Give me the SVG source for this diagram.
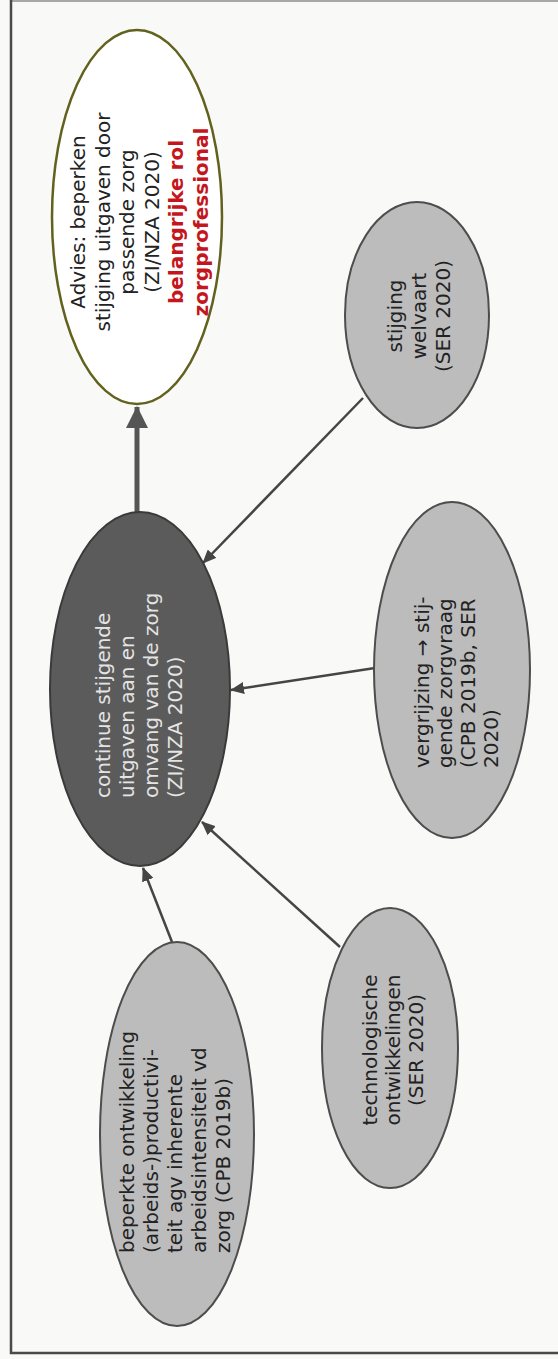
<svg xmlns="http://www.w3.org/2000/svg" width="558" height="1359" viewBox="0 0 558 1359">
<defs>
<style>
.bg{fill:#f9f9f7}
.frame{fill:none;stroke:#4a4a4a;stroke-width:2.5}
.topline{stroke:#a8a8a8;stroke-width:2}
.grey{fill:#bcbcbc;stroke:#4d4d4d;stroke-width:2}
.dark{fill:#5b5b5b;stroke:#3a3a3a;stroke-width:2}
.white{fill:#ffffff;stroke:#62621e;stroke-width:2.5}
text{font-family:"DejaVu Sans",Verdana,sans-serif;font-size:20px}
.t{fill:#222}
.tl{fill:#e4e4e4}
.red{fill:#c4161c;font-weight:bold}
.c{text-anchor:middle}
.thin{stroke:#454545;stroke-width:2.5;fill:none}
.thick{stroke:#555;stroke-width:5;fill:none}
</style>
<marker id="ah" markerUnits="userSpaceOnUse" markerWidth="14" markerHeight="12" refX="13" refY="6" orient="auto">
<path d="M0,0 L14,6 L0,12 Z" fill="#454545"/>
</marker>
<marker id="ahb" markerUnits="userSpaceOnUse" markerWidth="22" markerHeight="22" refX="21" refY="11" orient="auto">
<path d="M0,0 L22,11 L0,22 Z" fill="#555"/>
</marker>
</defs>
<rect class="bg" x="0" y="0" width="558" height="1359"/>
<line class="topline" x1="11" y1="1" x2="558" y2="1"/>
<path class="frame" d="M11,0 L11,1353 L560,1353"/>

<g id="connectors">
<line class="thick" x1="137" y1="512" x2="137" y2="407" marker-end="url(#ahb)"/>
<line class="thin" x1="363" y1="398" x2="203" y2="563" marker-end="url(#ah)"/>
<line class="thin" x1="375" y1="668" x2="231" y2="690" marker-end="url(#ah)"/>
<line class="thin" x1="340" y1="947" x2="202" y2="822" marker-end="url(#ah)"/>
<line class="thin" x1="172" y1="942" x2="143" y2="868" marker-end="url(#ah)"/>
</g>

<g id="advies">
<ellipse class="white" cx="137" cy="217" rx="85" ry="187"/>
<g transform="translate(85,222) rotate(-90)">
<text class="t c" x="0" y="0">Advies:  beperken</text>
<text class="t c" x="0" y="24.5">stijging uitgaven door</text>
<text class="t c" x="0" y="49">passende zorg</text>
<text class="t c" x="0" y="73.5">(ZI/NZA 2020)</text>
<text class="red c" x="0" y="98">belangrijke rol</text>
<text class="red c" x="0" y="122.5">zorgprofessional</text>
</g>
</g>

<g id="central">
<ellipse class="dark" cx="140" cy="689" rx="90" ry="177"/>
<g transform="translate(110,798) rotate(-90)">
<text class="tl" x="0" y="0">continue stijgende</text>
<text class="tl" x="0" y="24">uitgaven aan en</text>
<text class="tl" x="0" y="48">omvang van de zorg</text>
<text class="tl" x="0" y="72">(ZI/NZA 2020)</text>
</g>
</g>

<g id="welvaart">
<ellipse class="grey" cx="417" cy="315" rx="72" ry="113"/>
<g transform="translate(402,316) rotate(-90)">
<text class="t c" x="0" y="0">stijging</text>
<text class="t c" x="0" y="24">welvaart</text>
<text class="t c" x="0" y="48">(SER 2020)</text>
</g>
</g>

<g id="vergrijzing">
<ellipse class="grey" cx="452" cy="670" rx="78" ry="168"/>
<g transform="translate(429,768) rotate(-90)">
<text class="t" x="0" y="0">vergrijzing → stij-</text>
<text class="t" x="0" y="23">gende zorgvraag</text>
<text class="t" x="0" y="46">(CPB 2019b, SER</text>
<text class="t" x="0" y="69">2020)</text>
</g>
</g>

<g id="technologisch">
<ellipse class="grey" cx="390" cy="1048" rx="68" ry="140"/>
<g transform="translate(377,1050) rotate(-90)">
<text class="t c" x="0" y="0">technologische</text>
<text class="t c" x="0" y="23">ontwikkelingen</text>
<text class="t c" x="0" y="46">(SER 2020)</text>
</g>
</g>

<g id="beperkte">
<ellipse class="grey" cx="177" cy="1134" rx="77" ry="192"/>
<g transform="translate(134,1253) rotate(-90)">
<text class="t" x="0" y="0">beperkte ontwikkeling</text>
<text class="t" x="0" y="24">(arbeids-)productivi-</text>
<text class="t" x="0" y="48">teit agv inherente</text>
<text class="t" x="0" y="72">arbeidsintensiteit vd</text>
<text class="t" x="0" y="96">zorg (CPB 2019b)</text>
</g>
</g>
</svg>
